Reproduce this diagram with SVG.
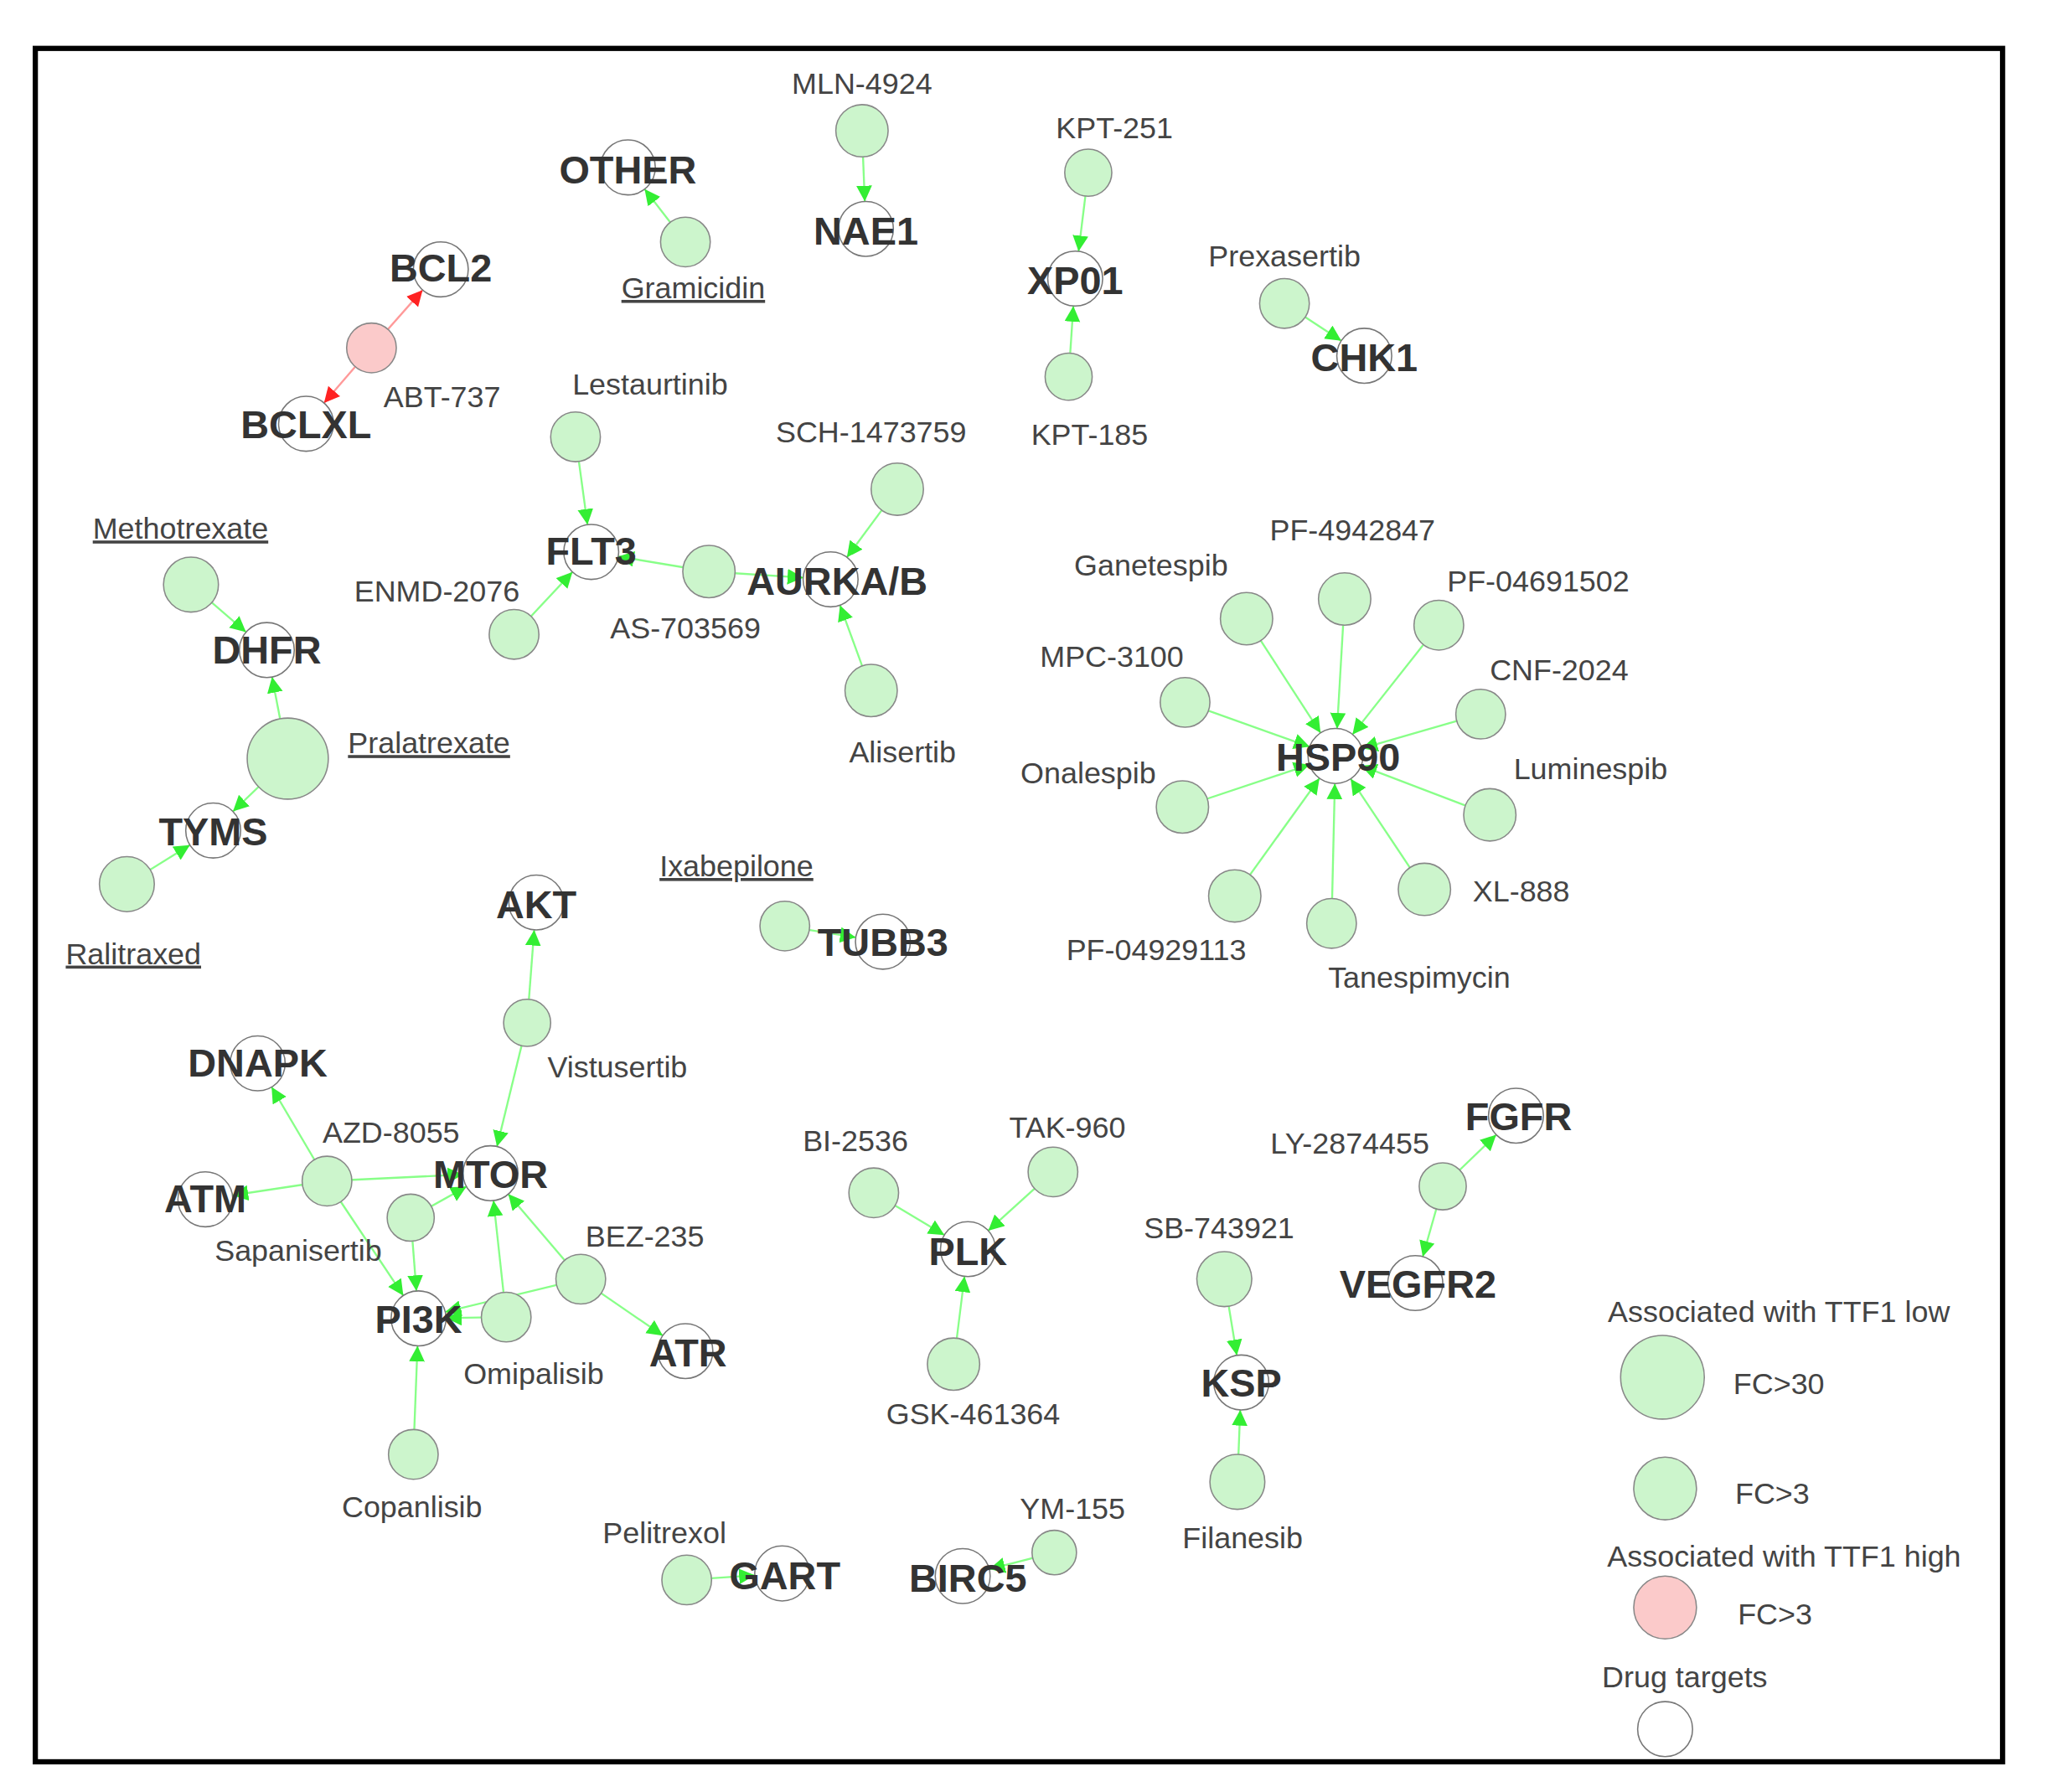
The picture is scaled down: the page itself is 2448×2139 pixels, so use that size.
<svg xmlns="http://www.w3.org/2000/svg" width="2448" height="2139" viewBox="0 0 2448 2139">
<defs>
<marker id="ag" markerUnits="userSpaceOnUse" markerWidth="40" markerHeight="16" refX="33" refY="6" orient="auto"><path d="M0,0 L12,6 L0,12 z" fill="#33ee33"/></marker>
<marker id="ar" markerUnits="userSpaceOnUse" markerWidth="40" markerHeight="16" refX="33" refY="6" orient="auto"><path d="M0,0 L12,6 L0,12 z" fill="#ff2222"/></marker>
</defs>
<style>
.e{stroke:#88ff88;stroke-width:1.5;fill:none;marker-end:url(#ag)}
.r{stroke:#ff9999;stroke-width:1.5;fill:none;marker-end:url(#ar)}
.t{fill:#fff;stroke:#777;stroke-width:1}
.d{fill:#ccf5cc;stroke:#888;stroke-width:1}
.p{fill:#fbcaca;stroke:#888;stroke-width:1}
.b{font-family:"Liberation Sans",Arial,sans-serif;font-weight:bold;font-size:30px;fill:#333;text-anchor:middle}
.l{font-family:"Liberation Sans",Arial,sans-serif;font-size:23px;fill:#444;text-anchor:middle}
.u{text-decoration:underline}
</style>
<rect width="2448" height="2139" fill="#fff"/>
<g transform="scale(1.5612)">
<rect x="27" y="37" width="1504" height="1310" fill="none" stroke="#000" stroke-width="4"/>
<g id="connectors">
<line class="e" x1="659" y1="100" x2="662" y2="175"/>
<line class="e" x1="524" y1="185" x2="480" y2="128"/>
<line class="e" x1="832" y1="132" x2="822" y2="213"/>
<line class="e" x1="817" y1="288" x2="822" y2="213"/>
<line class="e" x1="982" y1="232" x2="1043" y2="272"/>
<line class="r" x1="284" y1="266" x2="337" y2="206"/>
<line class="r" x1="284" y1="266" x2="234" y2="324"/>
<line class="e" x1="440" y1="334" x2="452" y2="422"/>
<line class="e" x1="393" y1="485" x2="452" y2="422"/>
<line class="e" x1="542" y1="437" x2="452" y2="422"/>
<line class="e" x1="542" y1="437" x2="635" y2="443"/>
<line class="e" x1="686" y1="374" x2="635" y2="443"/>
<line class="e" x1="666" y1="528" x2="635" y2="443"/>
<line class="e" x1="146" y1="447" x2="204" y2="497"/>
<line class="e" x1="220" y1="580" x2="204" y2="497"/>
<line class="e" x1="220" y1="580" x2="163" y2="635"/>
<line class="e" x1="97" y1="676" x2="163" y2="635"/>
<line class="e" x1="600" y1="708" x2="675" y2="720"/>
<line class="e" x1="953" y1="473" x2="1021" y2="578"/>
<line class="e" x1="1028" y1="458" x2="1021" y2="578"/>
<line class="e" x1="1100" y1="478" x2="1021" y2="578"/>
<line class="e" x1="1132" y1="546" x2="1021" y2="578"/>
<line class="e" x1="906" y1="537" x2="1021" y2="578"/>
<line class="e" x1="1139" y1="623" x2="1021" y2="578"/>
<line class="e" x1="904" y1="617" x2="1021" y2="578"/>
<line class="e" x1="1089" y1="680" x2="1021" y2="578"/>
<line class="e" x1="944" y1="685" x2="1021" y2="578"/>
<line class="e" x1="1018" y1="706" x2="1021" y2="578"/>
<line class="e" x1="403" y1="782" x2="410" y2="690"/>
<line class="e" x1="403" y1="782" x2="375" y2="897"/>
<line class="e" x1="250" y1="903" x2="197" y2="813"/>
<line class="e" x1="250" y1="903" x2="157" y2="917"/>
<line class="e" x1="250" y1="903" x2="375" y2="897"/>
<line class="e" x1="250" y1="903" x2="320" y2="1008"/>
<line class="e" x1="314" y1="931" x2="375" y2="897"/>
<line class="e" x1="314" y1="931" x2="320" y2="1008"/>
<line class="e" x1="444" y1="978" x2="375" y2="897"/>
<line class="e" x1="444" y1="978" x2="320" y2="1008"/>
<line class="e" x1="444" y1="978" x2="524" y2="1033"/>
<line class="e" x1="387" y1="1007" x2="375" y2="897"/>
<line class="e" x1="387" y1="1007" x2="320" y2="1008"/>
<line class="e" x1="316" y1="1112" x2="320" y2="1008"/>
<line class="e" x1="668" y1="912" x2="740" y2="955"/>
<line class="e" x1="805" y1="896" x2="740" y2="955"/>
<line class="e" x1="729" y1="1043" x2="740" y2="955"/>
<line class="e" x1="1103" y1="907" x2="1159" y2="853"/>
<line class="e" x1="1103" y1="907" x2="1082" y2="981"/>
<line class="e" x1="936" y1="978" x2="949" y2="1057"/>
<line class="e" x1="946" y1="1133" x2="949" y2="1057"/>
<line class="e" x1="806" y1="1187" x2="736" y2="1205"/>
<line class="e" x1="525" y1="1208" x2="598" y2="1203"/>
</g>
<g id="targets">
<g id="n-OTHER"><circle class="t" cx="480" cy="128" r="21"/><text class="b" x="480" y="140">OTHER</text></g>
<g id="n-NAE1"><circle class="t" cx="662" cy="175" r="21"/><text class="b" x="662" y="187">NAE1</text></g>
<g id="n-XP01"><circle class="t" cx="822" cy="213" r="21"/><text class="b" x="822" y="225">XP01</text></g>
<g id="n-CHK1"><circle class="t" cx="1043" cy="272" r="21"/><text class="b" x="1043" y="284">CHK1</text></g>
<g id="n-BCL2"><circle class="t" cx="337" cy="206" r="21"/><text class="b" x="337" y="215">BCL2</text></g>
<g id="n-BCLXL"><circle class="t" cx="234" cy="324" r="21"/><text class="b" x="234" y="335">BCLXL</text></g>
<g id="n-FLT3"><circle class="t" cx="452" cy="422" r="21"/><text class="b" x="452" y="432">FLT3</text></g>
<g id="n-AURKAB"><circle class="t" cx="635" cy="443" r="21"/><text class="b" x="640" y="455">AURKA/B</text></g>
<g id="n-DHFR"><circle class="t" cx="204" cy="497" r="21"/><text class="b" x="204" y="507">DHFR</text></g>
<g id="n-TYMS"><circle class="t" cx="163" cy="635" r="21"/><text class="b" x="163" y="646">TYMS</text></g>
<g id="n-AKT"><circle class="t" cx="410" cy="690" r="21"/><text class="b" x="410" y="702">AKT</text></g>
<g id="n-TUBB3"><circle class="t" cx="675" cy="720" r="21"/><text class="b" x="675" y="731">TUBB3</text></g>
<g id="n-HSP90"><circle class="t" cx="1021" cy="578" r="21"/><text class="b" x="1023" y="589">HSP90</text></g>
<g id="n-DNAPK"><circle class="t" cx="197" cy="813" r="21"/><text class="b" x="197" y="823">DNAPK</text></g>
<g id="n-ATM"><circle class="t" cx="157" cy="917" r="21"/><text class="b" x="157" y="927">ATM</text></g>
<g id="n-MTOR"><circle class="t" cx="375" cy="897" r="21"/><text class="b" x="375" y="908">MTOR</text></g>
<g id="n-PI3K"><circle class="t" cx="320" cy="1008" r="21"/><text class="b" x="320" y="1019">PI3K</text></g>
<g id="n-ATR"><circle class="t" cx="524" cy="1033" r="21"/><text class="b" x="526" y="1045">ATR</text></g>
<g id="n-PLK"><circle class="t" cx="740" cy="955" r="21"/><text class="b" x="740" y="967">PLK</text></g>
<g id="n-FGFR"><circle class="t" cx="1159" cy="853" r="21"/><text class="b" x="1161" y="864">FGFR</text></g>
<g id="n-VEGFR2"><circle class="t" cx="1082" cy="981" r="21"/><text class="b" x="1084" y="992">VEGFR2</text></g>
<g id="n-KSP"><circle class="t" cx="949" cy="1057" r="21"/><text class="b" x="949" y="1068">KSP</text></g>
<g id="n-GART"><circle class="t" cx="598" cy="1203" r="21"/><text class="b" x="600" y="1215">GART</text></g>
<g id="n-BIRC5"><circle class="t" cx="736" cy="1205" r="21"/><text class="b" x="740" y="1217">BIRC5</text></g>
</g>
<g id="drugs">
<g id="d-MLN"><circle class="d" cx="659" cy="100" r="20"/><text class="l" x="659" y="72">MLN-4924</text></g>
<g id="d-Gram"><circle class="d" cx="524" cy="185" r="19"/><text class="l u" x="530" y="228">Gramicidin</text></g>
<g id="d-KPT251"><circle class="d" cx="832" cy="132" r="18"/><text class="l" x="852" y="106">KPT-251</text></g>
<g id="d-KPT185"><circle class="d" cx="817" cy="288" r="18"/><text class="l" x="833" y="340">KPT-185</text></g>
<g id="d-Prex"><circle class="d" cx="982" cy="232" r="19"/><text class="l" x="982" y="204">Prexasertib</text></g>
<g id="d-ABT"><circle class="p" cx="284" cy="266" r="19"/><text class="l" x="338" y="311">ABT-737</text></g>
<g id="d-Lest"><circle class="d" cx="440" cy="334" r="19"/><text class="l" x="497" y="302">Lestaurtinib</text></g>
<g id="d-SCH"><circle class="d" cx="686" cy="374" r="20"/><text class="l" x="666" y="338">SCH-1473759</text></g>
<g id="d-AS"><circle class="d" cx="542" cy="437" r="20"/><text class="l" x="524" y="488">AS-703569</text></g>
<g id="d-ENMD"><circle class="d" cx="393" cy="485" r="19"/><text class="l" x="334" y="460">ENMD-2076</text></g>
<g id="d-Alis"><circle class="d" cx="666" cy="528" r="20"/><text class="l" x="690" y="583">Alisertib</text></g>
<g id="d-Meth"><circle class="d" cx="146" cy="447" r="21"/><text class="l u" x="138" y="412">Methotrexate</text></g>
<g id="d-Pral"><circle class="d" cx="220" cy="580" r="31"/><text class="l u" x="328" y="576">Pralatrexate</text></g>
<g id="d-Ral"><circle class="d" cx="97" cy="676" r="21"/><text class="l u" x="102" y="737">Ralitraxed</text></g>
<g id="d-Ixa"><circle class="d" cx="600" cy="708" r="19"/><text class="l u" x="563" y="670">Ixabepilone</text></g>
<g id="d-Gane"><circle class="d" cx="953" cy="473" r="20"/><text class="l" x="880" y="440">Ganetespib</text></g>
<g id="d-PF49"><circle class="d" cx="1028" cy="458" r="20"/><text class="l" x="1034" y="413">PF-4942847</text></g>
<g id="d-PF0469"><circle class="d" cx="1100" cy="478" r="19"/><text class="l" x="1176" y="452">PF-04691502</text></g>
<g id="d-CNF"><circle class="d" cx="1132" cy="546" r="19"/><text class="l" x="1192" y="520">CNF-2024</text></g>
<g id="d-MPC"><circle class="d" cx="906" cy="537" r="19"/><text class="l" x="850" y="510">MPC-3100</text></g>
<g id="d-Lumi"><circle class="d" cx="1139" cy="623" r="20"/><text class="l" x="1216" y="596">Luminespib</text></g>
<g id="d-Onal"><circle class="d" cx="904" cy="617" r="20"/><text class="l" x="832" y="599">Onalespib</text></g>
<g id="d-XL"><circle class="d" cx="1089" cy="680" r="20"/><text class="l" x="1163" y="689">XL-888</text></g>
<g id="d-PF0492"><circle class="d" cx="944" cy="685" r="20"/><text class="l" x="884" y="734">PF-04929113</text></g>
<g id="d-Tane"><circle class="d" cx="1018" cy="706" r="19"/><text class="l" x="1085" y="755">Tanespimycin</text></g>
<g id="d-Vist"><circle class="d" cx="403" cy="782" r="18"/><text class="l" x="472" y="824">Vistusertib</text></g>
<g id="d-AZD"><circle class="d" cx="250" cy="903" r="19"/><text class="l" x="299" y="874">AZD-8055</text></g>
<g id="d-Sapa"><circle class="d" cx="314" cy="931" r="18"/><text class="l" x="228" y="964">Sapanisertib</text></g>
<g id="d-BEZ"><circle class="d" cx="444" cy="978" r="19"/><text class="l" x="493" y="953">BEZ-235</text></g>
<g id="d-Omip"><circle class="d" cx="387" cy="1007" r="19"/><text class="l" x="408" y="1058">Omipalisib</text></g>
<g id="d-Copa"><circle class="d" cx="316" cy="1112" r="19"/><text class="l" x="315" y="1160">Copanlisib</text></g>
<g id="d-BI"><circle class="d" cx="668" cy="912" r="19"/><text class="l" x="654" y="880">BI-2536</text></g>
<g id="d-TAK"><circle class="d" cx="805" cy="896" r="19"/><text class="l" x="816" y="870">TAK-960</text></g>
<g id="d-GSK"><circle class="d" cx="729" cy="1043" r="20"/><text class="l" x="744" y="1089">GSK-461364</text></g>
<g id="d-LY"><circle class="d" cx="1103" cy="907" r="18"/><text class="l" x="1032" y="882">LY-2874455</text></g>
<g id="d-SB"><circle class="d" cx="936" cy="978" r="21"/><text class="l" x="932" y="947">SB-743921</text></g>
<g id="d-Fil"><circle class="d" cx="946" cy="1133" r="21"/><text class="l" x="950" y="1184">Filanesib</text></g>
<g id="d-YM"><circle class="d" cx="806" cy="1187" r="17"/><text class="l" x="820" y="1161">YM-155</text></g>
<g id="d-Pel"><circle class="d" cx="525" cy="1208" r="19"/><text class="l" x="508" y="1180">Pelitrexol</text></g>
</g>
<g id="legend">
<text class="l" x="1360" y="1011">Associated with TTF1 low</text>
<circle class="d" cx="1271" cy="1053" r="32"/>
<text class="l" x="1360" y="1066">FC&gt;30</text>
<circle class="d" cx="1273" cy="1138" r="24"/>
<text class="l" x="1355" y="1150">FC&gt;3</text>
<text class="l" x="1364" y="1198">Associated with TTF1 high</text>
<circle class="p" cx="1273" cy="1229" r="24"/>
<text class="l" x="1357" y="1242">FC&gt;3</text>
<text class="l" x="1288" y="1290">Drug targets</text>
<circle class="t" cx="1273" cy="1322" r="21"/>
</g>
</g>
</svg>
